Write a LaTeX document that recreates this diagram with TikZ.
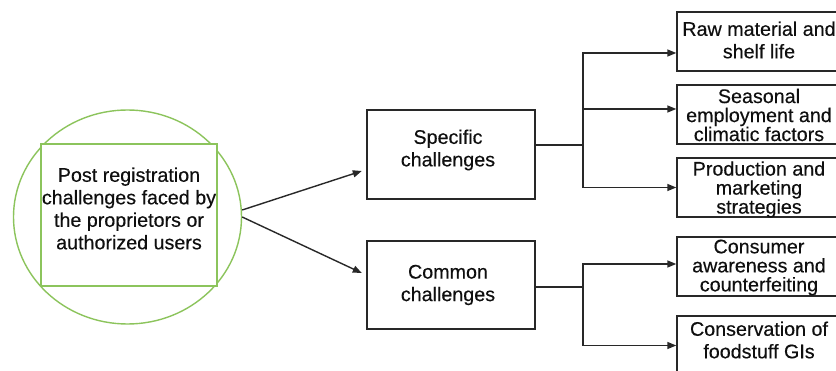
\documentclass[tikz,border=0pt]{standalone}
\usepackage{fontspec}
\setmainfont{Liberation Sans}
\newfontfamily\thickfont[FakeBold=0.35]{Liberation Sans}
\usetikzlibrary{arrows.meta,shapes.geometric}
\definecolor{gr}{RGB}{140,196,92}
\definecolor{ln}{RGB}{40,40,40}
\definecolor{tx}{RGB}{15,15,15}
\begin{document}
\begin{tikzpicture}[x=1pt,y=-1pt,
  boxst/.style={draw=ln,line width=1.4pt,rectangle,inner sep=0pt,fill=white},
  gbox/.style={draw=gr,line width=1.4pt,inner sep=0pt},
  lbl/.style={text=tx,align=center,inner sep=0pt,font=\thickfont\fontsize{19.7}{22.5}\selectfont},
  lbls/.style={text=tx,align=center,inner sep=0pt,font=\thickfont\fontsize{19.7}{19}\selectfont},
  con/.style={draw=ln,line width=1.4pt},
  arr/.style={con,-{Triangle[length=9pt,width=7pt]}}]
\useasboundingbox (0,0) rectangle (836,371);
\fill[white] (0,0) rectangle (836,371);
% left group
\node[gbox,ellipse,minimum width=228pt,minimum height=214pt] (circ) at (127.5,217) {};
\node[gbox,rectangle,fill=white,minimum width=176pt,minimum height=142pt] (sq) at (129,215) {};
\node[lbl] (t0) at (129,208.5) {Post registration\\challenges faced by\\the proprietors or\\authorized users};
% middle boxes
\node[boxst,minimum width=168pt,minimum height=89pt] (spec) at (451,154.5) {};
\node[lbl] (tspec) at (448,150) {Specific\\challenges};
\node[boxst,minimum width=168pt,minimum height=88pt] (com) at (451,285) {};
\node[lbl] (tcom) at (448,285) {Common\\challenges};
% right boxes
\node[boxst,minimum width=168pt,minimum height=59pt] (b1) at (761,41.5) {};
\node[lbl] (t1) at (759,40) {Raw material and\\shelf life};
\node[boxst,minimum width=168pt,minimum height=59pt] (b2) at (761,114.5) {};
\node[lbls] (t2) at (759,115) {Seasonal\\employment and\\climatic factors};
\node[boxst,minimum width=168pt,minimum height=59pt] (b3) at (761,187.5) {};
\node[lbls] (t3) at (759,189.5) {Production and\\marketing\\strategies};
\node[boxst,minimum width=168pt,minimum height=59pt] (b4) at (761,266.5) {};
\node[lbls] (t4) at (759,267.5) {Consumer\\awareness and\\counterfeiting};
\node[boxst,minimum width=168pt,minimum height=59pt] (b5) at (761,345.5) {};
\node[lbl] (t5) at (759,340) {Conservation of\\foodstuff GIs};
% connectors
\draw[arr] ([yshift=7pt]circ.east) -- ([xshift=-4.5pt,yshift=-16.5pt]spec.west);
\draw[arr] (circ.east) -- ([xshift=-4.5pt,yshift=12pt]com.west);
\coordinate (sj) at (583,145);
\coordinate (cj) at (583,287);
\draw[con] ([yshift=9.5pt]spec.east) -- (sj);
\draw[arr] (sj) |- ([yshift=-11.5pt]b1.west);
\draw[arr] (sj) |- ([yshift=5.5pt]b2.west);
\draw[arr] (sj) |- (b3.west);
\draw[con] ([yshift=-2pt]com.east) -- (cj);
\draw[arr] (cj) |- ([yshift=2.5pt]b4.west);
\draw[arr] (cj) |- (b5.west);
\end{tikzpicture}
\end{document}
